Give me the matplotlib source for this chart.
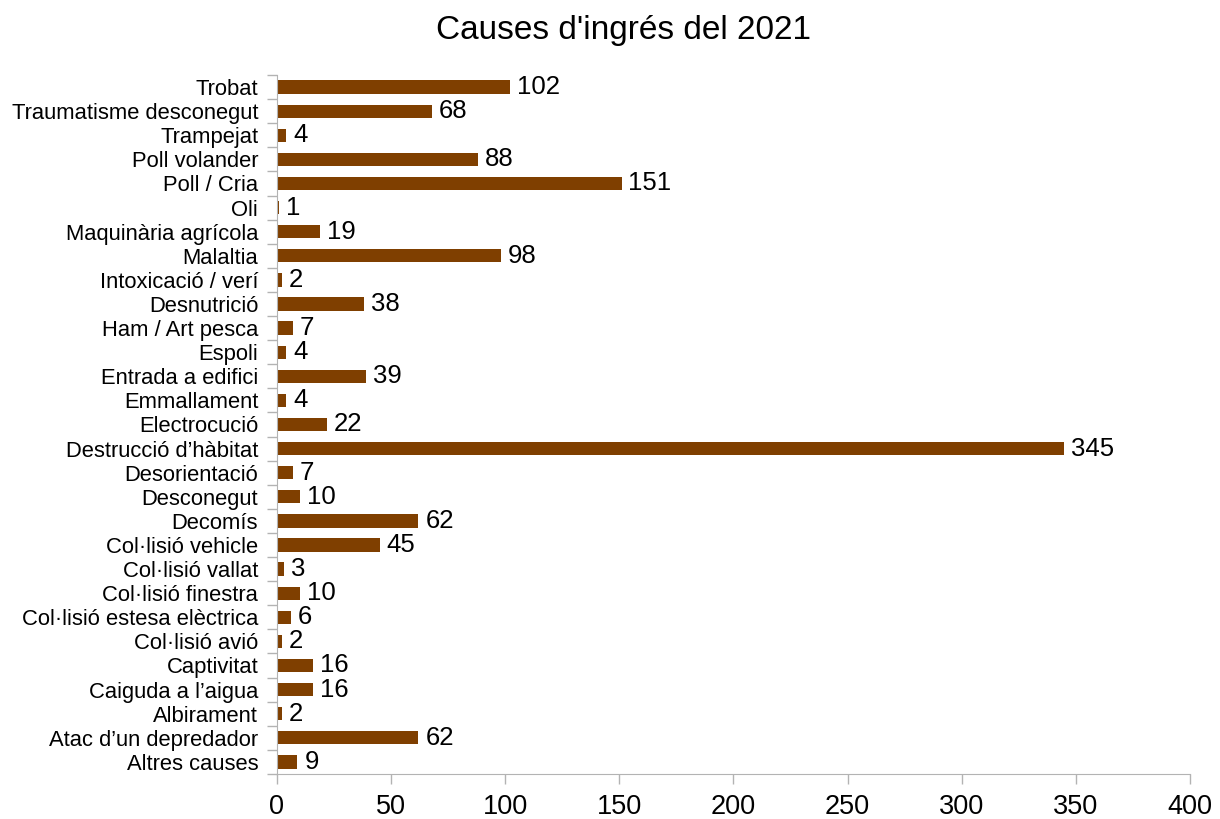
import numpy as np
import matplotlib.pyplot as plt
from matplotlib.ticker import FixedLocator

plt.rcParams['font.family'] = ['Liberation Sans', 'DejaVu Sans']

# categories listed top to bottom, as in the chart
causes = [
    'Trobat', 'Traumatisme desconegut', 'Trampejat', 'Poll volander',
    'Poll / Cria', 'Oli', 'Maquinària agrícola', 'Malaltia',
    'Intoxicació / verí', 'Desnutrició', 'Ham / Art pesca', 'Espoli',
    'Entrada a edifici', 'Emmallament', 'Electrocució',
    'Destrucció d’hàbitat', 'Desorientació', 'Desconegut', 'Decomís',
    'Col·lisió vehicle', 'Col·lisió vallat', 'Col·lisió finestra',
    'Col·lisió estesa elèctrica', 'Col·lisió avió', 'Captivitat',
    'Caiguda a l’aigua', 'Albirament', 'Atac d’un depredador', 'Altres causes',
]
counts = [102, 68, 4, 88, 151, 1, 19, 98, 2, 38, 7, 4, 39, 4, 22,
          345, 7, 10, 62, 45, 3, 10, 6, 2, 16, 16, 2, 62, 9]
x_ticks = [0, 50, 100, 150, 200, 250, 300, 350, 400]

bar_color = '#7f3f00'
axis_color = '#b3b3b3'

fig = plt.figure(figsize=(12.2, 8.19), dpi=100)
ax = fig.add_axes([0.227, 0.055, 0.7484, 0.8534])

y = np.arange(len(causes))[::-1]
ax.barh(y, counts, height=0.55, color=bar_color)

for yi, v in zip(y, counts):
    ax.text(v + 3, yi, str(v), va='center', ha='left', fontsize=18.5, color='black')

ax.set_ylim(-0.5, len(causes) - 0.5)
ax.set_xlim(0, 400)
ax.set_yticks(y)
ax.set_yticklabels(causes, fontsize=15.8)
ax.yaxis.set_minor_locator(FixedLocator(np.arange(-0.5, len(causes), 1.0)))
ax.tick_params(axis='y', which='major', length=0, pad=13.5)
ax.tick_params(axis='y', which='minor', length=7.5, color=axis_color, width=1)

ax.set_xticks(x_ticks)
ax.tick_params(axis='x', labelsize=19.5, length=7.5, color=axis_color, width=1, pad=7)

for s in ['top', 'right']:
    ax.spines[s].set_visible(False)
for s in ['left', 'bottom']:
    ax.spines[s].set_color(axis_color)

fig.text(0.511, 0.963, "Causes d'ingrés del 2021", ha='center', va='center', fontsize=24)

fig.savefig('out.png', dpi=100)
